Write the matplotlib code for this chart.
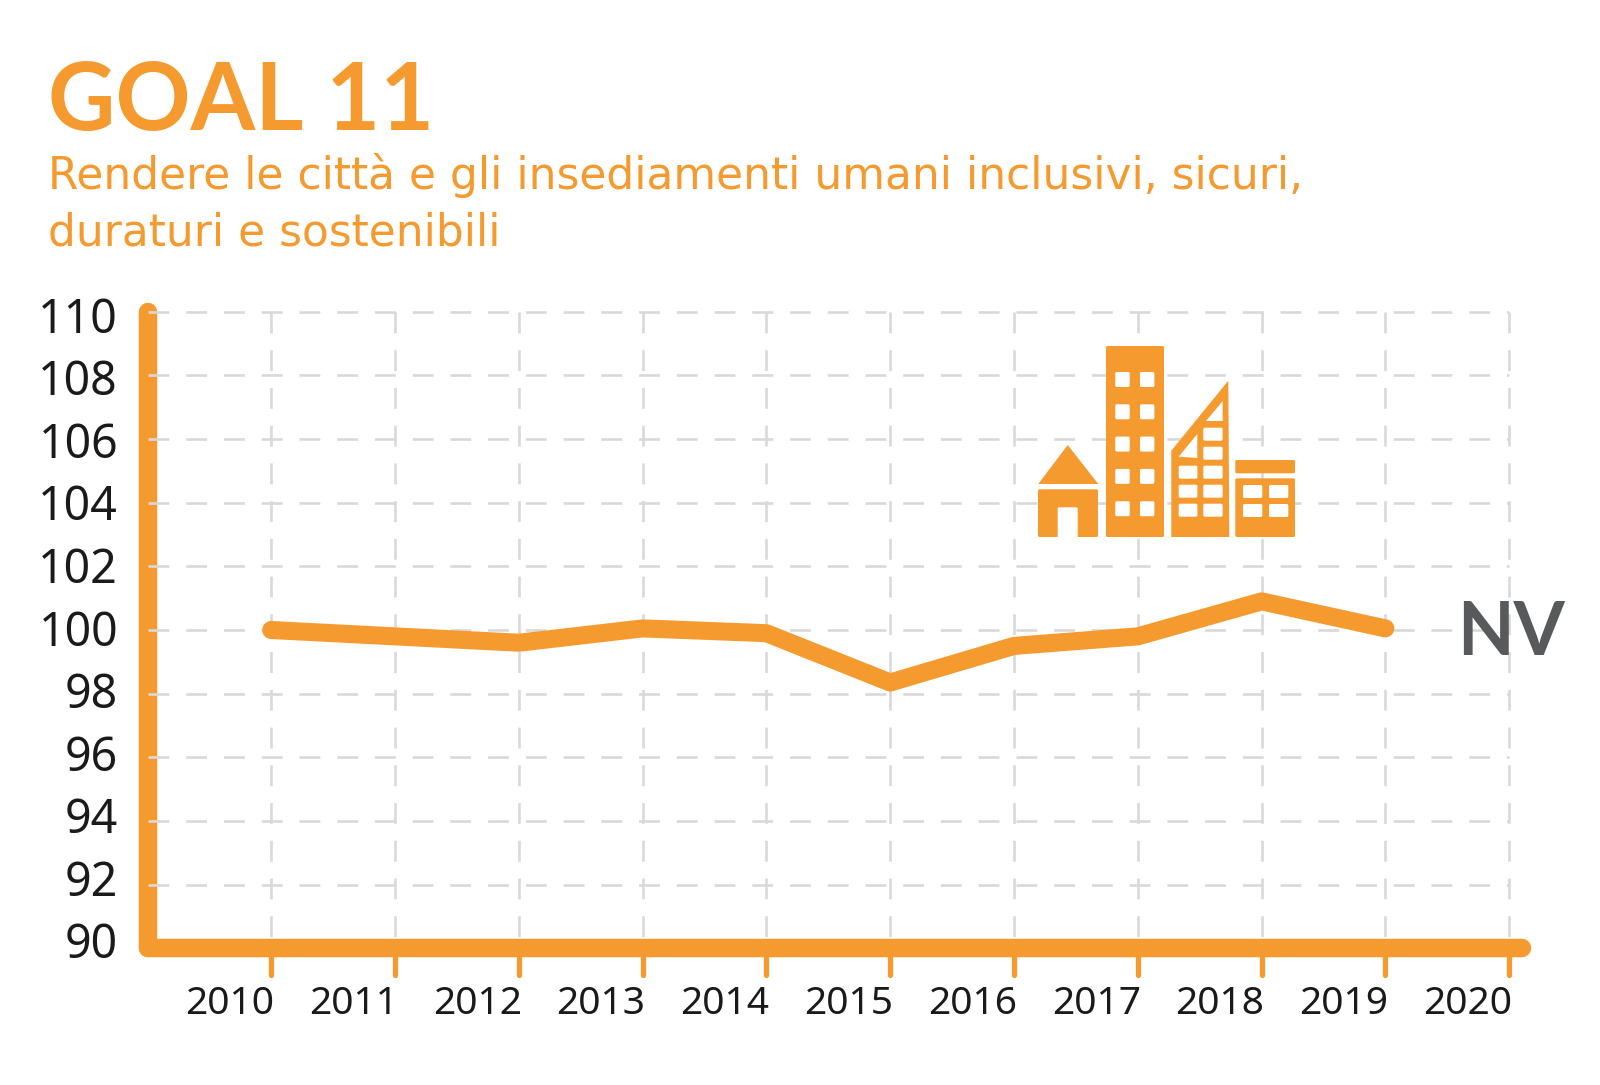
import matplotlib
matplotlib.use("Agg")
import matplotlib.pyplot as plt
from matplotlib.patches import FancyBboxPatch, Polygon

ORANGE = "#f59a2f"
GREY = "#d9d9d9"
DARK = "#58595b"
INK = "#1a1a1a"

years = [2010, 2011, 2012, 2013, 2014, 2015, 2016, 2017, 2018, 2019]
values = [100.0, 99.8, 99.6, 100.05, 99.9, 98.35, 99.5, 99.8, 100.9, 100.05]
x_ticks = [2010, 2011, 2012, 2013, 2014, 2015, 2016, 2017, 2018, 2019, 2020]
y_ticks = [90, 92, 94, 96, 98, 100, 102, 104, 106, 108, 110]

W, H = 1600, 1085
fig = plt.figure(figsize=(W / 100, H / 100), dpi=100, facecolor="white")

# axes box, in pixels of the target picture
left, right, top, bottom = 147.7, 1509.2, 311.7, 948.3
ax = fig.add_axes([left / W, 1 - bottom / H, (right - left) / W, (bottom - top) / H])
px_per_year = 123.8
x0 = 2020 - (right - left) / px_per_year
ax.set_xlim(x0, 2020)
ax.set_ylim(90, 110)
ax.patch.set_alpha(0)
for s in ax.spines.values():
    s.set_visible(False)
ax.tick_params(left=False, bottom=False, labelleft=False, labelbottom=False)

# y axis sits under the grid, the x axis over it
ax.plot([x0, x0], [90, 110], color=ORANGE, lw=13.3, solid_capstyle="round", clip_on=False, zorder=2)
ax.plot([x0, 2020.1], [90, 90], color=ORANGE, lw=13.3, solid_capstyle="round", clip_on=False, zorder=4)

# grid, dashes counted from the top and the left
dash = (7.9, 6.4)
for v in y_ticks[1:]:
    ax.plot([x0, 2020], [v, v], color=GREY, lw=1.9, dashes=dash, dash_capstyle="butt",
            clip_on=False, zorder=3)
for y in x_ticks:
    ax.plot([y, y], [110, 90], color=GREY, lw=1.9, dashes=dash, dash_capstyle="butt",
            clip_on=False, zorder=3)

for y in x_ticks:
    ax.plot([y, y], [90, 89.17], color=ORANGE, lw=3.8, solid_capstyle="round", clip_on=False, zorder=3)

ax.plot(years, values, color=ORANGE, lw=13, solid_capstyle="round", solid_joinstyle="round", zorder=4)

# y labels drift slightly off the gridlines in the original
for v in y_ticks:
    ax.text(x0 - 0.24, 89.686 + (v - 90) * 0.9827, str(v), ha="right", va="baseline",
            fontsize=33.5, family="Noto Sans", color=INK)
for y in x_ticks:
    ax.text(y + 0.024, 87.94, str(y), ha="right", va="baseline",
            fontsize=28, family="Noto Sans", color=INK)

fig.text(1457 / W, 1 - 655 / H, "NV", ha="left", va="baseline", fontsize=53, fontweight="bold",
         family="Lato", color=DARK, zorder=5)

# title block
fig.text(48 / W, 1 - 130.4 / H, "GOAL 11", ha="left", va="baseline", fontsize=67, fontweight="bold",
         family="Lato", color=ORANGE)
fig.text(48 / W, 1 - 189 / H, "Rendere le città e gli insediamenti umani inclusivi, sicuri,",
         ha="left", va="baseline", fontsize=31.55, family="DejaVu Sans", color=ORANGE)
fig.text(48 / W, 1 - 245.4 / H, "duraturi e sostenibili",
         ha="left", va="baseline", fontsize=31.55, family="DejaVu Sans", color=ORANGE)

# city icon, drawn in figure pixels
icon = fig.add_axes([0, 0, 1, 1])
icon.set_xlim(0, W)
icon.set_ylim(H, 0)
icon.axis("off")
icon.patch.set_alpha(0)


def box(x, y, w, h, color=ORANGE, r=1.5):
    icon.add_patch(FancyBboxPatch((x + r, y + r), w - 2 * r, h - 2 * r, boxstyle=f"round,pad={r}",
                                  fc=color, ec="none", zorder=6))


def tri(points, color=ORANGE):
    icon.add_patch(Polygon(points, fc=color, ec="none", zorder=7 if color == "white" else 6))


# house
tri([(1038.3, 484), (1067.7, 445), (1098.3, 484)])
box(1038, 489.3, 60, 47.7)
box(1057.7, 507.3, 20, 31, "white")
# tower
box(1106, 346, 58, 191)
for row in range(5):
    for cx in (1115.3, 1140):
        box(cx, 372 + row * 32.3, 14.4, 15, "white")
# slanted block
tri([(1171.3, 537), (1171.3, 450.7), (1228.3, 380.7), (1229.3, 537)])
tri([(1178.7, 456.7), (1197.3, 434), (1197.3, 458)], "white")
tri([(1206, 421), (1222.7, 401), (1222.7, 421)], "white")
for row in range(3):
    box(1178.7, 465.7 + row * 19, 18.7, 13, "white")
for row in range(5):
    box(1203.3, 427.7 + row * 19, 19.3, 13, "white")
# low block
box(1235.3, 460, 59.7, 13.3)
box(1235.3, 478.3, 59.7, 58.7)
for row in range(2):
    for cx in (1243, 1269):
        box(cx, 485 + row * 19, 19.3, 13, "white")

fig.savefig("out.png", dpi=100)
